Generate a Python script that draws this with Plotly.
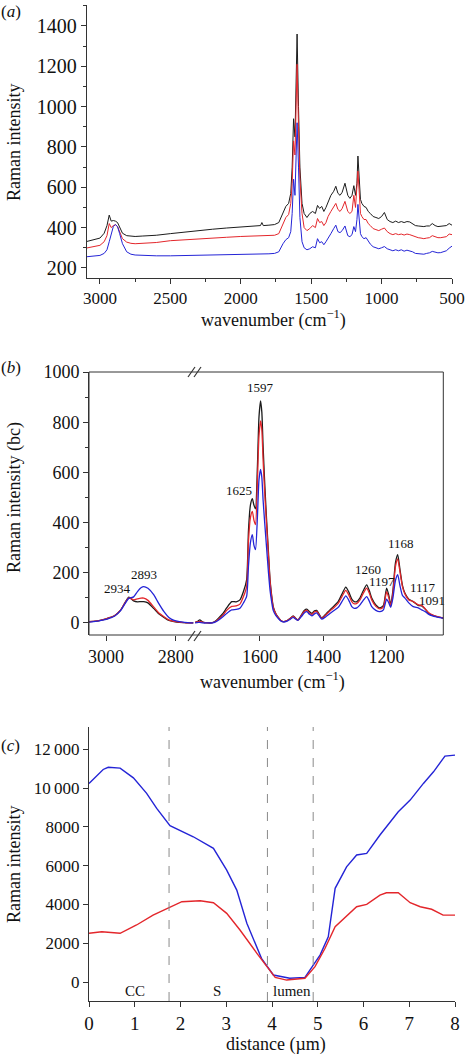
import plotly.graph_objects as go

W, H = 466, 1058
FONT = "Liberation Serif"
AX = "#333333"
BLACK, RED, BLUE = "#1c1c1c", "#e3262b", "#2424d6"

# ---------------- panel (a) ----------------
wn_a = [3100, 3050, 3000, 2970, 2950, 2934, 2920, 2905, 2890, 2875, 2860, 2840, 2810, 2780, 2750,
        2700, 2600, 2500, 2400, 2300, 2200, 2100, 2000, 1900, 1860, 1850, 1840, 1800, 1760, 1730,
        1700, 1680, 1660, 1645, 1635, 1625, 1615, 1608, 1600, 1590, 1580, 1565, 1550, 1530, 1510,
        1490, 1470, 1455, 1440, 1425, 1410, 1395, 1380, 1360, 1340, 1325, 1310, 1295, 1280, 1260,
        1240, 1225, 1210, 1197, 1185, 1175, 1168, 1160, 1150, 1140, 1125, 1110, 1095, 1080, 1060,
        1040, 1020, 1000, 980, 960, 940, 920, 900, 880, 860, 840, 820, 800, 780, 760,
        740, 720, 700, 680, 660, 640, 620, 600, 580, 560, 540, 520, 500]
black_a = [330, 338, 348, 372, 410, 462, 432, 435, 432, 425, 400, 372, 360, 358, 356,
           358, 362, 370, 378, 385, 392, 398, 402, 406, 410, 425, 410, 412, 415, 425,
           470, 505, 520, 570, 700, 940, 850, 1050, 1360, 1000, 700, 520, 470, 450, 470,
           480, 470, 510, 495, 505, 480, 500, 530, 560, 580, 605, 570, 560, 575, 620,
           560, 545, 560, 608, 560, 620, 755, 640, 540, 520, 505, 500, 480, 470, 455,
           450, 445, 455, 475, 440, 430, 425, 432, 425, 430, 425, 430, 428, 420, 410,
           408, 405, 405, 408, 408, 420, 410, 405, 406, 408, 410, 420, 412]
red_a = [298, 305, 312, 330, 360, 420, 400, 410, 414, 405, 380, 345, 328, 322, 320,
         322, 326, 335, 340, 345, 348, 352, 356, 358, 360, 362, 360, 362, 362, 370,
         420, 450, 465, 520, 620, 830, 760, 950, 1210, 900, 640, 470, 400, 385, 395,
         410, 400, 445, 425, 430, 410, 425, 455, 480, 500, 520, 490, 480, 495, 530,
         480, 470, 480, 560, 500, 600, 680, 590, 470, 455, 440, 440, 420, 410, 395,
         390, 385, 392, 398, 380, 370, 365, 370, 365, 368, 363, 368, 365, 360, 352,
         350, 348, 345, 348, 350, 360, 355, 350, 350, 352, 355, 368, 365]
blue_a = [255, 258, 262, 272, 290, 330, 370, 405, 415, 405, 370, 320, 280, 268, 264,
          262, 260, 260, 261, 262, 263, 264, 266, 268, 268, 269, 268, 270, 272, 280,
          320, 340, 350, 380, 470, 640, 560, 720, 920, 700, 450, 330, 300, 290, 295,
          305, 300, 345, 325, 330, 315, 330, 350, 370, 395, 412, 380, 375, 385, 408,
          360, 355, 365, 405, 380, 440, 515, 440, 370, 355, 345, 350, 330, 318, 305,
          300, 295, 300, 306, 295, 290, 285, 290, 285, 290, 283, 288, 285, 280, 272,
          270, 270, 268, 272, 275, 282, 278, 275, 276, 280, 285, 298, 308]

# ---------------- panel (b) ----------------
wn_b_hi = [3049, 3030, 3017, 3000, 2988, 2975, 2959, 2948, 2935, 2921, 2910, 2900, 2892, 2880,
           2863, 2850, 2834, 2820, 2805, 2790, 2775, 2760, 2750]
black_b_hi = [5, 7, 10, 16, 22, 30, 50, 75, 103, 88, 84, 85, 85, 80, 57, 38, 22, 10, 5, 2, 1, 0, 0]
red_b_hi = [5, 7, 10, 16, 22, 30, 50, 75, 100, 92, 96, 99, 99, 90, 63, 42, 25, 12, 6, 3, 1, 0, 0]
blue_b_hi = [3, 6, 9, 14, 20, 28, 48, 72, 98, 104, 125, 140, 145, 138, 112, 80, 45, 22, 10, 5, 2, 0, 0]

wn_b_lo = [1805, 1795, 1790, 1780, 1765, 1750, 1740, 1730, 1716, 1705, 1689, 1675, 1663, 1652,
           1642, 1636, 1630, 1624, 1619, 1614, 1608, 1603, 1598, 1594, 1590, 1585, 1579, 1573,
           1568, 1563, 1558, 1550, 1542, 1534, 1526, 1516, 1505, 1495, 1488, 1480, 1470, 1460,
           1452, 1444, 1436, 1428, 1421, 1413, 1405, 1392, 1379, 1366, 1353, 1341, 1329, 1320,
           1310, 1302, 1294, 1284, 1275, 1263, 1255, 1247, 1234, 1221, 1210, 1200, 1193, 1187,
           1180, 1172, 1165, 1158, 1150, 1142, 1130, 1116, 1100, 1089, 1078, 1068, 1055, 1042,
           1030, 1021]
black_b_lo = [2, 8, 12, 3, 0, 1, 8, 20, 39, 60, 85, 84, 92, 125,
              172, 372, 470, 495, 470, 455, 620, 820, 885, 840, 705, 560, 412, 280,
              172, 110, 65, 38, 22, 10, 5, 8, 18, 28, 20, 12, 30, 50,
              55, 45, 38, 48, 50, 35, 20, 35, 52, 68, 85, 115, 143, 125,
              95, 85, 85, 100, 125, 152, 130, 99, 72, 60, 70, 139, 110, 72,
              130, 240, 272, 215, 150, 118, 95, 85, 70, 68, 55, 40, 30, 25,
              22, 19]
red_b_lo = [2, 5, 6, 2, 0, 1, 6, 16, 32, 50, 66, 68, 75, 105,
            145, 330, 420, 445, 410, 392, 560, 745, 805, 770, 650, 520, 390, 265,
            165, 105, 62, 36, 21, 10, 5, 8, 17, 26, 19, 11, 28, 46,
            50, 40, 34, 44, 46, 32, 18, 32, 48, 62, 78, 105, 130, 113,
            85, 76, 78, 92, 115, 139, 120, 92, 66, 56, 64, 125, 100, 68,
            120, 225, 255, 205, 145, 115, 92, 85, 72, 70, 56, 42, 32, 26,
            22, 19]
blue_b_lo = [0, 2, 2, 0, 0, 0, 4, 12, 26, 38, 52, 54, 59, 80,
             106, 230, 320, 352, 310, 292, 420, 570, 612, 580, 490, 400, 300, 200,
             130, 85, 50, 30, 18, 8, 4, 6, 14, 22, 16, 10, 24, 40,
             45, 35, 28, 36, 40, 28, 15, 25, 38, 50, 62, 85, 108, 92,
             65, 58, 60, 72, 88, 105, 88, 65, 50, 45, 52, 95, 80, 62,
             100, 170, 192, 150, 110, 99, 80, 65, 60, 52, 45, 35, 28, 24,
             21, 18]

peak_hi_text = ["2934", "2893"]
peak_hi_x = [2966, 2891]
peak_hi_y = [136, 192]
peak_lo_text = ["1625", "1597", "1260", "1197", "1168", "1117", "1091"]
peak_lo_x = [1665, 1598, 1259, 1215, 1155, 1085, 1057]
peak_lo_y = [528, 938, 214, 164, 316, 140, 90]

# ---------------- panel (c) ----------------
dist_blue = [0, 0.31, 0.42, 0.68, 0.97, 1.26, 1.48, 1.70, 1.77, 2.28, 2.72, 3.01, 3.23, 3.45, 3.77,
             4.03, 4.39, 4.72, 5.05, 5.23, 5.38, 5.63, 5.85, 6.07, 6.36, 6.76, 7.02, 7.31, 7.53, 7.78, 8.0]
int_blue = [10240, 10960, 11070, 11030, 10530, 9730, 8950, 8260, 8060, 7490, 6890, 5770, 4740, 3030, 1220,
            360, 190, 240, 1390, 2330, 4830, 5940, 6550, 6630, 7580, 8780, 9380, 10240, 10840, 11650, 11700]
dist_red = [0, 0.28, 0.68, 1.04, 1.40, 1.73, 2.03, 2.43, 2.72, 3.01, 3.30, 3.67, 3.96, 4.07, 4.32,
            4.72, 4.94, 5.16, 5.38, 5.70, 5.85, 6.07, 6.36, 6.50, 6.76, 7.02, 7.24, 7.49, 7.74, 8.0]
int_red = [2510, 2590, 2510, 2940, 3450, 3800, 4140, 4190, 4090, 3540, 2680, 1480, 620, 240, 100,
           190, 790, 1740, 2850, 3540, 3880, 4000, 4480, 4600, 4600, 4090, 3880, 3750, 3450, 3450]
region_bounds = [1.75, 3.9, 4.9]
region_names = ["CC", "S", "lumen"]
region_label_x = [1.0, 2.79, 4.44]
c_yticks = [0, 2000, 4000, 6000, 8000, 10000, 12000]
c_yticktext = ["0", "2000", "4000", "6000", "8000", "10\u2009000", "12\u2009000"]


def px(x):
    return x / W


def py(y):
    return (H - y) / H


def f(size):
    return dict(family=FONT, size=size, color="#111")


fig = go.Figure()

for ys, col in [(black_a, BLACK), (red_a, RED), (blue_a, BLUE)]:
    fig.add_trace(go.Scatter(x=wn_a, y=ys, mode="lines", line=dict(color=col, width=1),
                             xaxis="x", yaxis="y", showlegend=False))

for ys_hi, ys_lo, col in [(black_b_hi, black_b_lo, BLACK), (red_b_hi, red_b_lo, RED),
                          (blue_b_hi, blue_b_lo, BLUE)]:
    fig.add_trace(go.Scatter(x=wn_b_hi, y=ys_hi, mode="lines",
                             line=dict(color=col, width=1.3, shape="spline", smoothing=0.6),
                             xaxis="x2", yaxis="y2", showlegend=False))
    fig.add_trace(go.Scatter(x=wn_b_lo, y=ys_lo, mode="lines",
                             line=dict(color=col, width=1.3, shape="spline", smoothing=0.6),
                             xaxis="x3", yaxis="y2", showlegend=False))

fig.add_trace(go.Scatter(x=dist_blue, y=int_blue, mode="lines", line=dict(color=BLUE, width=1.4),
                         xaxis="x4", yaxis="y3", showlegend=False))
fig.add_trace(go.Scatter(x=dist_red, y=int_red, mode="lines", line=dict(color=RED, width=1.4),
                         xaxis="x4", yaxis="y3", showlegend=False))

common = dict(showgrid=False, zeroline=False, ticks="outside", tickcolor=AX, linecolor=AX,
              linewidth=1, tickwidth=1, ticklen=5)

fig.update_layout(
    width=W, height=H, margin=dict(l=0, r=0, t=0, b=0, autoexpand=False),
    paper_bgcolor="white", plot_bgcolor="white",
    font=f(17),
    xaxis=dict(domain=[px(86.7), px(452)], anchor="y", range=[3094, 500], tick0=0, dtick=500,
               showline=True, tickfont=f(17),
               minor=dict(ticks="outside", dtick=250, ticklen=3, tickcolor=AX), **common),
    yaxis=dict(domain=[py(278), py(5)], anchor="x", range=[150, 1504], tick0=0, dtick=200,
               showline=True, tickfont=f(20),
               minor=dict(ticks="outside", dtick=100, ticklen=3, tickcolor=AX), **common),
    xaxis2=dict(domain=[px(89), px(195)], anchor="y2", range=[3049, 2745],
                tickvals=[3000, 2800], showline=False, tickfont=f(18), **common),
    xaxis3=dict(domain=[px(195), px(443.3)], anchor="y2", range=[1805, 1021],
                tickvals=[1600, 1400, 1200], showline=False, tickfont=f(18), **common),
    yaxis2=dict(domain=[py(635), py(372)], anchor="x2", range=[-48, 1000], tick0=0, dtick=200,
                showline=True, tickfont=f(18),
                minor=dict(ticks="outside", dtick=100, ticklen=3, tickcolor=AX), **common),
    xaxis4=dict(domain=[px(89), px(455)], anchor="y3", range=[0, 8], dtick=1,
                showline=True, tickfont=f(19), **common),
    yaxis3=dict(domain=[py(1001), py(727)], anchor="x4", range=[-980, 13150],
                tickvals=c_yticks, ticktext=c_yticktext,
                showline=True, tickfont=f(17), **common),
)

shapes = []
# frame of panel (b)
shapes.append(dict(type="rect", xref="paper", yref="paper", x0=px(89), x1=px(443.3),
                   y0=py(635), y1=py(372), line=dict(color=AX, width=1), fillcolor="rgba(0,0,0,0)"))
# axis-break marks
for yb in (372, 636):
    for dx in (0, 6):
        shapes.append(dict(type="line", xref="paper", yref="paper",
                           x0=px(188 + dx), y0=py(yb + 5), x1=px(195 + dx), y1=py(yb - 5),
                           line=dict(color=AX, width=1.2)))
# region boundaries in panel (c)
for xb in region_bounds:
    shapes.append(dict(type="line", xref="x4", yref="y3 domain", x0=xb, x1=xb, y0=0, y1=1,
                       line=dict(color="#8a8a8a", width=1, dash="dash")))
fig.update_layout(shapes=shapes)

ann = []
for t, x, y in zip(peak_hi_text, peak_hi_x, peak_hi_y):
    ann.append(dict(text=t, x=x, y=y, xref="x2", yref="y2", showarrow=False,
                    font=f(13), xanchor="center", yanchor="middle"))
for t, x, y in zip(peak_lo_text, peak_lo_x, peak_lo_y):
    ann.append(dict(text=t, x=x, y=y, xref="x3", yref="y2", showarrow=False,
                    font=f(13), xanchor="center", yanchor="middle"))
for t, x in zip(region_names, region_label_x):
    ann.append(dict(text=t, x=x, y=-460, xref="x4", yref="y3", showarrow=False,
                    font=f(15), xanchor="center", yanchor="middle"))


def paper_text(t, x, y, size, angle=0):
    ann.append(dict(text=t, x=px(x), y=py(y), xref="paper", yref="paper", showarrow=False,
                    font=f(size), xanchor="center", yanchor="middle", textangle=angle))


paper_text("(<i>a</i>)", 11, 12, 17)
paper_text("(<i>b</i>)", 11, 367, 17)
paper_text("(<i>c</i>)", 10, 745, 17)
paper_text("Raman intensity", 14, 143, 18, -90)
paper_text("wavenumber (cm<sup>\u22121</sup>)", 273, 319, 18)
paper_text("Raman intensity (bc)", 14, 498, 18, -90)
paper_text("wavenumber (cm<sup>\u22121</sup>)", 272, 681, 18)
paper_text("Raman intensity", 14, 865, 18, -90)
paper_text("distance (\u00b5m)", 276, 1044, 18)
fig.update_layout(annotations=ann)

fig.write_html("out.html", config={"displayModeBar": False},
               post_script="document.body.style.margin='0';document.body.style.padding='0';")
